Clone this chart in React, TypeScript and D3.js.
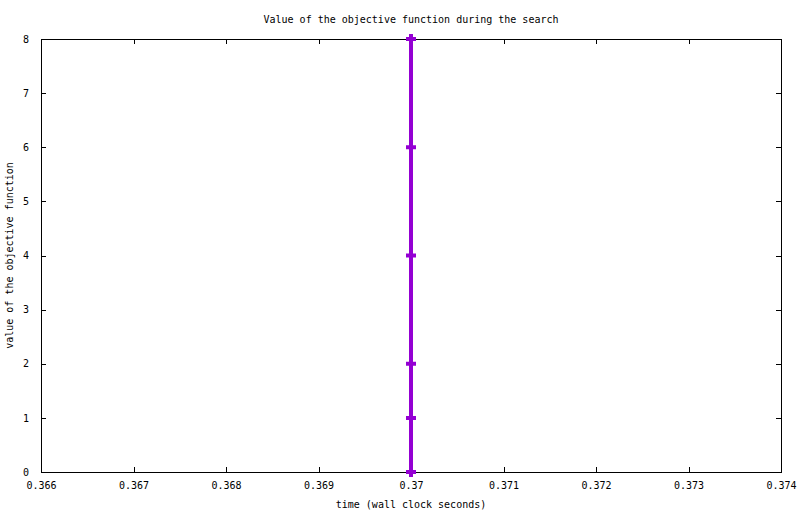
import { useEffect, useRef } from 'react';
import * as d3 from 'd3';

const times = [0.37, 0.37, 0.37, 0.37, 0.37, 0.37];
const objective = [8, 6, 4, 2, 1, 0];
const xTicks = [0.366, 0.367, 0.368, 0.369, 0.37, 0.371, 0.372, 0.373, 0.374];
const yTicks = [0, 1, 2, 3, 4, 5, 6, 7, 8];

const width = 800;
const height = 514;
const font = '"DejaVu Sans Mono", monospace';

export default function App() {
  const svgRef = useRef<SVGSVGElement>(null);

  useEffect(() => {
    if (!svgRef.current) return;
    const svg = d3.select(svgRef.current);
    svg.selectAll('*').remove();

    const margin = { top: 39, right: 19, bottom: 42, left: 41 };
    const innerWidth = width - margin.left - margin.right;
    const innerHeight = height - margin.top - margin.bottom;

    svg.append('rect').attr('width', width).attr('height', height).attr('fill', '#fff');

    const g = svg.append('g').attr('transform', `translate(${margin.left},${margin.top})`);

    const x = d3.scaleLinear().domain([0.366, 0.374]).range([0, innerWidth]);
    const y = d3.scaleLinear().domain([0, 8]).range([innerHeight, 0]);

    // ticks, inward on all four sides
    const tickLen = 5;
    const xAxisB = d3.axisBottom(x).tickValues(xTicks).tickSizeInner(-tickLen).tickSizeOuter(0).tickPadding(10).tickFormat((d) => String(+(+d).toFixed(3)));
    const xAxisT = d3.axisTop(x).tickValues(xTicks).tickSizeInner(-tickLen).tickSizeOuter(0).tickFormat(() => '');
    const yAxisL = d3.axisLeft(y).tickValues(yTicks).tickSizeInner(-tickLen).tickSizeOuter(0).tickPadding(12);
    const yAxisR = d3.axisRight(y).tickValues(yTicks).tickSizeInner(-tickLen).tickSizeOuter(0).tickFormat(() => '');

    const axes = [
      g.append('g').attr('transform', `translate(0,${innerHeight})`).call(xAxisB),
      g.append('g').call(xAxisT),
      g.append('g').call(yAxisL),
      g.append('g').attr('transform', `translate(${innerWidth},0)`).call(yAxisR),
    ];
    axes.forEach((a) => {
      a.select('.domain').remove();
      a.selectAll('.tick line').attr('stroke', '#000').attr('shape-rendering', 'crispEdges');
      a.selectAll('text').attr('fill', '#000').attr('font-family', font).attr('font-size', 10);
    });

    g.append('rect')
      .attr('x', 0)
      .attr('y', 0)
      .attr('width', innerWidth)
      .attr('height', innerHeight)
      .attr('fill', 'none')
      .attr('stroke', '#000')
      .attr('shape-rendering', 'crispEdges');

    const pts = times.map((t, i) => [t, objective[i]] as [number, number]);
    const line = d3
      .line<[number, number]>()
      .x((d) => x(d[0]))
      .y((d) => y(d[1]));

    const color = '#9400d3';
    g.append('path')
      .datum(pts)
      .attr('d', line)
      .attr('fill', 'none')
      .attr('stroke', color)
      .attr('stroke-width', 4);

    // plus-shaped point markers
    const pSize = 5;
    g.selectAll('path.pt')
      .data(pts)
      .enter()
      .append('path')
      .attr('class', 'pt')
      .attr('d', (d) => {
        const px = x(d[0]);
        const py = y(d[1]);
        return `M${px - pSize},${py}H${px + pSize}M${px},${py - pSize}V${py + pSize}`;
      })
      .attr('stroke', color)
      .attr('stroke-width', 4)
      .attr('fill', 'none');

    // titles
    svg.append('text')
      .attr('x', margin.left + innerWidth / 2)
      .attr('y', 23)
      .attr('text-anchor', 'middle')
      .attr('font-family', font)
      .attr('font-size', 10)
      .text('Value of the objective function during the search');

    svg.append('text')
      .attr('x', margin.left + innerWidth / 2)
      .attr('y', 508)
      .attr('text-anchor', 'middle')
      .attr('font-family', font)
      .attr('font-size', 10)
      .text('time (wall clock seconds)');

    svg.append('text')
      .attr('transform', `translate(13,${margin.top + innerHeight / 2}) rotate(-90)`)
      .attr('text-anchor', 'middle')
      .attr('font-family', font)
      .attr('font-size', 10)
      .text('value of the objective function');
  }, []);

  return (
    <svg
      ref={svgRef}
      width={width}
      height={height}
      style={{ position: 'absolute', left: 0, top: 0, display: 'block' }}
    />
  );
}
